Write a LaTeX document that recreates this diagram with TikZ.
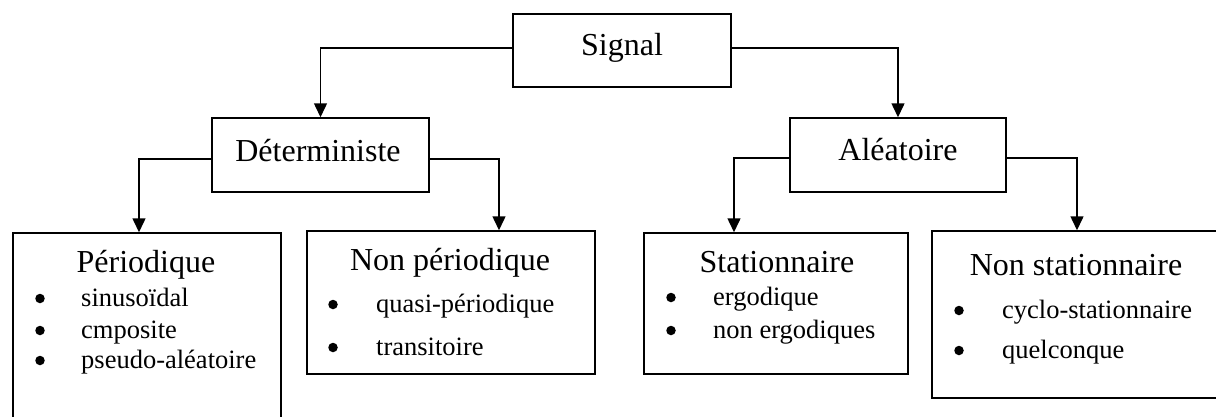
\documentclass[tikz,border=0pt]{standalone}
\usepackage{fontspec}
\setmainfont{Liberation Serif}
\usetikzlibrary{arrows.meta}
\tikzset{
  x=1pt,y=-1pt,
  box/.style={draw=black,line width=1.5pt,rectangle,inner sep=0pt},
  ttl/.style={anchor=base,inner sep=0pt,font=\fontsize{32}{38}\selectfont},
  itm/.style={anchor=base west,inner sep=0pt,font=\fontsize{26.5}{32}\selectfont},
  bul/.style={circle,fill=black,inner sep=0pt,minimum size=9.5pt,yshift=7.5pt},
  arr/.style={line width=1.5pt,-{Triangle[width=13pt,length=14pt]}},
}
\begin{document}
\begin{tikzpicture}
\useasboundingbox (0,0) rectangle (1216,416);
\clip (0,0) rectangle (1216,416);
% boxes
\node[box,minimum width=218pt,minimum height=73pt] (sig) at (622,50.5) {};
\node[box,minimum width=217pt,minimum height=74pt] (det) at (320.5,155) {};
\node[box,minimum width=216pt,minimum height=74pt] (ale) at (898,155) {};
\node[box,minimum width=268pt,minimum height=187pt] (per) at (147,326.5) {};
\node[box,minimum width=288pt,minimum height=143pt] (nper) at (451,302.5) {};
\node[box,minimum width=264pt,minimum height=141pt] (sta) at (776,303.5) {};
\node[box,minimum width=286pt,minimum height=167pt] (nsta) at (1075,314.5) {};
% titles
\node[ttl] (tsig) at (622,55) {Signal};
\node[ttl] (tdet) at (318,161) {Déterministe};
\node[ttl] (tale) at (898,160) {Aléatoire};
\node[ttl] (tper) at (146,272) {Périodique};
\node[ttl] (tnper) at (450,270) {Non périodique};
\node[ttl] (tsta) at (777,272) {Stationnaire};
\node[ttl] (tnsta) at (1076,275) {Non stationnaire};
% items
\node[bul] (b1) at (40,306) {}; \node[itm] (i1) at (81,306) {sinusoïdal};
\node[bul] (b2) at (40,338) {}; \node[itm] (i2) at (81,338) {cmposite};
\node[bul] (b3) at (40,368) {}; \node[itm] (i3) at (81,368) {pseudo-aléatoire};
\node[bul] (b4) at (333,312) {}; \node[itm] (i4) at (376,312) {quasi-périodique};
\node[bul] (b5) at (333,355) {}; \node[itm] (i5) at (376,355) {transitoire};
\node[bul] (b6) at (671,305) {}; \node[itm] (i6) at (713,305) {ergodique};
\node[bul] (b7) at (671,338) {}; \node[itm] (i7) at (713,338) {non ergodiques};
\node[bul] (b8) at (959,318) {}; \node[itm] (i8) at (1002,318) {cyclo-stationnaire};
\node[bul] (b9) at (959,358) {}; \node[itm] (i9) at (1002,358) {quelconque};
% connectors
\draw[arr] ([yshift=2.5pt]sig.west) -| (det.north);
\draw[arr] ([yshift=2.5pt]sig.east) -| (ale.north);
\draw[arr] ([yshift=-4pt]det.west) -| ([xshift=-8pt]per.north);
\draw[arr] ([yshift=-4pt]det.east) -| ([xshift=48pt]nper.north);
\draw[arr] ([yshift=-3pt]ale.west) -| ([xshift=-42pt]sta.north);
\draw[arr] ([yshift=-3pt]ale.east) -| ([xshift=2pt]nsta.north);
\end{tikzpicture}
\end{document}
